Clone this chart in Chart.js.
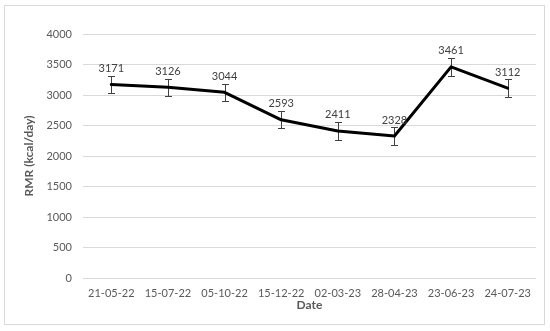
<!DOCTYPE html>
<html>
<head>
<meta charset="utf-8">
<script src="https://cdn.jsdelivr.net/npm/chart.js@4/dist/chart.umd.min.js"></script>
<style>
  html, body { margin: 0; padding: 0; background: #fff; }
  #wrap { width: 550px; height: 331px; position: relative; }
</style>
</head>
<body>
<div id="wrap"><canvas id="rmrChart"></canvas></div>
<script>
const dates = ['21-05-22', '15-07-22', '05-10-22', '15-12-22', '02-03-23', '28-04-23', '23-06-23', '24-07-23'];
const rmrValues = [3171, 3126, 3044, 2593, 2411, 2328, 3461, 3112];
const rmrErrors = [143, 143, 143, 142, 142, 140, 145, 148];
const yTicks = [0, 500, 1000, 1500, 2000, 2500, 3000, 3500, 4000];

const fontFamily = 'Lato, "Open Sans", sans-serif';
const textColor = '#595959';
const gridColor = '#d9d9d9';

// frame around the whole chart, like the Excel chart border
const framePlugin = {
    id: 'frame',
    beforeDraw(chart) {
        const c = chart.ctx;
        c.save();
        c.fillStyle = '#ffffff';
        c.fillRect(0, 0, chart.width, chart.height);
        c.strokeStyle = gridColor;
        c.lineWidth = 1;
        c.strokeRect(4.5, 5.5, 540, 319);
        c.restore();
    }
};

const errorBarPlugin = {
    id: 'errorBars',
    beforeDatasetsDraw(chart) {
        const c = chart.ctx;
        const y = chart.scales.y;
        const meta = chart.getDatasetMeta(0);
        c.save();
        c.strokeStyle = '#404040';
        c.lineWidth = 1;
        meta.data.forEach((pt, i) => {
            const top = Math.round(y.getPixelForValue(rmrValues[i] + rmrErrors[i])) + 0.5;
            const bot = Math.round(y.getPixelForValue(rmrValues[i] - rmrErrors[i])) + 0.5;
            const x = Math.round(pt.x) + 0.5;
            c.beginPath();
            c.moveTo(x, top); c.lineTo(x, bot);
            c.moveTo(x - 3.5, top); c.lineTo(x + 3.5, top);
            c.moveTo(x - 3.5, bot); c.lineTo(x + 3.5, bot);
            c.stroke();
        });
        c.restore();
    },
    afterDatasetsDraw(chart) {
        const c = chart.ctx;
        const meta = chart.getDatasetMeta(0);
        c.save();
        c.fillStyle = '#404040';
        c.font = '11px ' + fontFamily;
        c.textAlign = 'center';
        c.textBaseline = 'middle';
        meta.data.forEach((pt, i) => {
            c.fillText(String(rmrValues[i]), pt.x, pt.y - 16);
        });
        c.restore();
    }
};

new Chart(document.getElementById('rmrChart'), {
    type: 'line',
    data: {
        labels: dates,
        datasets: [{
            data: rmrValues,
            borderColor: '#000000',
            borderWidth: 3,
            borderJoinStyle: 'round',
            borderCapStyle: 'round',
            pointRadius: 0,
            tension: 0,
            fill: false
        }]
    },
    options: {
        responsive: true,
        maintainAspectRatio: false,
        animation: false,
        layout: { padding: { left: 0, right: 14, top: 34, bottom: 0 } },
        plugins: {
            legend: { display: false },
            tooltip: { enabled: false }
        },
        scales: {
            x: {
                offset: true,
                grid: { display: false, drawTicks: false },
                border: { display: false },
                ticks: {
                    color: textColor,
                    font: { family: fontFamily, size: 11 },
                    padding: 9,
                    maxRotation: 0,
                    autoSkip: false
                },
                title: {
                    display: true,
                    text: 'Date',
                    color: textColor,
                    font: { family: fontFamily, size: 12, weight: 'bold' },
                    padding: { top: 0, bottom: 19 }
                },
                afterFit(scale) { scale.height = 331 - 278; }
            },
            y: {
                min: 0,
                max: 4000,
                afterBuildTicks(scale) { scale.ticks = yTicks.map(v => ({ value: v })); },
                grid: { color: gridColor, lineWidth: 1, drawTicks: false },
                border: { display: false },
                ticks: {
                    color: textColor,
                    font: { family: fontFamily, size: 11 },
                    padding: 11,
                    callback: v => String(v)
                },
                title: {
                    display: true,
                    text: 'RMR (kcal/day)',
                    color: textColor,
                    font: { family: fontFamily, size: 12, weight: 'bold' },
                    padding: { top: 22, bottom: 0 }
                },
                afterFit(scale) { scale.width = 83; }
            }
        }
    },
    plugins: [framePlugin, errorBarPlugin]
});
</script>
</body>
</html>
